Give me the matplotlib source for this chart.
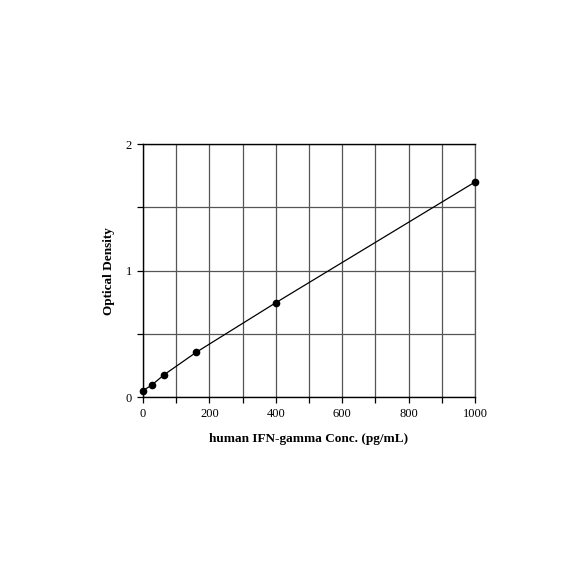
import matplotlib
matplotlib.use("Agg")
import matplotlib.pyplot as plt
from matplotlib.ticker import MultipleLocator

conc = [0, 25.6, 64, 160, 400, 1000]
od = [0.053, 0.095, 0.179, 0.355, 0.747, 1.70]
xticks = [0, 200, 400, 600, 800, 1000]
yticks = [0, 1, 2]

plt.rcParams['font.family'] = ['Liberation Serif', 'DejaVu Serif']
fig = plt.figure(figsize=(5.84, 5.84), dpi=100)
ax = fig.add_axes([0.2449, 0.3197, 0.5685, 0.4337])
ax.set_xlim(0, 1000)
ax.set_ylim(0, 2)
ax.xaxis.set_minor_locator(MultipleLocator(100))
ax.yaxis.set_minor_locator(MultipleLocator(0.5))
ax.set_xticks(xticks)
ax.set_yticks(yticks)
ax.grid(True, which='both', color='#555555', linewidth=0.9)
ax.set_axisbelow(True)
ax.plot(conc, od, color='black', linewidth=0.9, marker='o', markersize=4.5, zorder=3, clip_on=False)
for s in ['top', 'left', 'bottom']:
    ax.spines[s].set_linewidth(1.0)
    ax.spines[s].set_color('black')
ax.spines['right'].set_color('#555555')
ax.spines['right'].set_linewidth(0.9)
ax.tick_params(which='both', direction='out', length=4, width=0.9, labelsize=9, pad=4)
ax.set_xlabel('human IFN-gamma Conc. (pg/mL)', fontsize=9.5, fontweight='bold', labelpad=9)
ax.set_ylabel('Optical Density', fontsize=9.5, fontweight='bold', labelpad=8)
fig.savefig('out.png', dpi=100)
